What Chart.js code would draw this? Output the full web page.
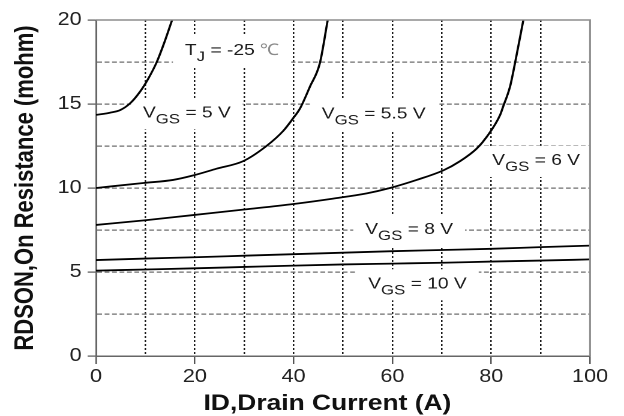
<!DOCTYPE html>
<html>
<head>
<meta charset="utf-8">
<script src="https://cdn.jsdelivr.net/npm/chart.js@4.4.1/dist/chart.umd.min.js"></script>
<style>
  html, body { margin: 0; padding: 0; background: #fff; }
  canvas { display: block; }
</style>
</head>
<body>
<canvas id="rdson" width="520" height="416" style="width:624px;height:416px"></canvas>
<script>
// Drain current (A) and on-resistance (mohm) for each gate voltage, Tj = -25 °C
const id5   = [0, 2.8, 4.9, 6.9, 8.9, 10.6, 12.3, 14.0, 15.4];
const rds5  = [14.35, 14.48, 14.64, 15.04, 15.73, 16.52, 17.5, 18.8, 20.0];

const id55  = [0, 9.6, 15.6, 19.7, 24.4, 29.8, 34.5, 37.9, 39.9, 41.3, 43.3, 45.3, 46.9];
const rds55 = [10.0, 10.3, 10.48, 10.75, 11.15, 11.6, 12.5, 13.4, 14.15, 14.74, 16.03, 17.42, 20.0];

const id6   = [0, 10, 19.7, 30, 40, 48, 54.8, 59.5, 64.9, 70.3, 73.7, 77.1, 79.1, 81.8, 82.4, 83.8, 84.8, 86.5];
const rds6  = [7.8, 8.08, 8.39, 8.72, 9.05, 9.37, 9.68, 10.0, 10.48, 11.05, 11.6, 12.36, 13.05, 14.35, 14.84, 16.03, 17.42, 20.0];

const id8   = [0, 10, 20, 30, 40, 50, 60, 70, 80, 90, 100];
const rds8  = [5.71, 5.8, 5.88, 5.97, 6.06, 6.15, 6.24, 6.31, 6.38, 6.48, 6.57];

const id10  = [0, 10, 20, 30, 40, 50, 60, 70, 80, 90, 100];
const rds10 = [5.08, 5.15, 5.22, 5.3, 5.38, 5.45, 5.5, 5.55, 5.62, 5.68, 5.75];

const xTicks = [0, 20, 40, 60, 80, 100];
const yTicks = [0, 5, 10, 15, 20];

const vgsLabels = ['5 V', '5.5 V', '6 V', '8 V', '10 V'];
const tjLabel = '-25 ';

const FONT = '"Liberation Sans", Arial, Helvetica, sans-serif';

function pts(xs, ys) { return xs.map((x, i) => ({ x: x, y: ys[i] })); }

function curve(xs, ys) {
  return {
    data: pts(xs, ys),
    borderColor: '#000',
    borderWidth: 1.8,
    pointRadius: 0,
    fill: false,
    cubicInterpolationMode: 'monotone'
  };
}

// Annotation texts: anchor is the left end of the text baseline, in axis units
const notes = [
  { x: 18.0, y: 17.92, parts: [['T', 16], ['J', 14, true], [' = ' + tjLabel, 16], ['\u2103', 16, false, '#8a8a8a']] },
  { x: 9.5,  y: 14.2,  parts: [['V', 16], ['GS', 14, true], [' = ' + vgsLabels[0], 16]] },
  { x: 45.7, y: 14.15, parts: [['V', 16], ['GS', 14, true], [' = ' + vgsLabels[1], 16]] },
  { x: 80.2, y: 11.37, parts: [['V', 16], ['GS', 14, true], [' = ' + vgsLabels[2], 16]] },
  { x: 54.5, y: 7.26,  parts: [['V', 16], ['GS', 14, true], [' = ' + vgsLabels[3], 16]] },
  { x: 55.1, y: 4.03,  parts: [['V', 16], ['GS', 14, true], [' = ' + vgsLabels[4], 16]] }
];

const notesPlugin = {
  id: 'notes',
  beforeDatasetsDraw(chart) {
    const { ctx } = chart;
    const xs = chart.scales.x, ys = chart.scales.y;
    ctx.save();
    ctx.textBaseline = 'alphabetic';
    ctx.textAlign = 'left';
    notes.forEach(n => {
      const px = xs.getPixelForValue(n.x);
      const py = ys.getPixelForValue(n.y);
      let w = 0;
      n.parts.forEach(p => {
        ctx.font = p[1] + 'px ' + FONT;
        w += ctx.measureText(p[0]).width;
      });
      ctx.fillStyle = '#fff';
      ctx.fillRect(px - 10, py - 19, w + 20, 31);
      let cx = px;
      n.parts.forEach(p => {
        ctx.font = p[1] + 'px ' + FONT;
        ctx.fillStyle = p[3] || '#1c1c1c';
        ctx.fillText(p[0], cx, py + (p[2] ? 6 : 0));
        cx += ctx.measureText(p[0]).width;
      });
    });
    ctx.restore();
  }
};

// Top and right edges of the plot frame
const framePlugin = {
  id: 'frame',
  afterDatasetsDraw(chart) {
    const { ctx, chartArea: a } = chart;
    ctx.save();
    ctx.strokeStyle = '#8c8c8c';
    ctx.lineWidth = 1.5;
    ctx.beginPath();
    ctx.moveTo(a.left, a.top);
    ctx.lineTo(a.right, a.top);
    ctx.lineTo(a.right, a.bottom);
    ctx.stroke();
    ctx.restore();
  }
};

// Horizontal axis title, set slightly left of the plot centre
const xTitlePlugin = {
  id: 'xTitle',
  afterDraw(chart) {
    const { ctx, chartArea: a } = chart;
    ctx.save();
    ctx.font = 'bold 22px ' + FONT;
    ctx.fillStyle = '#111';
    ctx.textAlign = 'center';
    ctx.textBaseline = 'middle';
    ctx.fillText('ID,Drain Current (A)', (a.left + a.right) / 2 - 13, a.bottom + 48);
    ctx.restore();
  }
};

new Chart(document.getElementById('rdson'), {
  type: 'line',
  data: {
    datasets: [
      curve(id5, rds5),
      curve(id55, rds55),
      curve(id6, rds6),
      curve(id8, rds8),
      curve(id10, rds10)
    ]
  },
  options: {
    responsive: false,
    devicePixelRatio: 2,
    animation: false,
    events: [],
    layout: { padding: { left: 0, right: 28.3, top: 20, bottom: 0 } },
    plugins: { legend: { display: false }, tooltip: { enabled: false } },
    scales: {
      x: {
        type: 'linear',
        min: 0,
        max: 100,
        afterFit(scale) { scale.height = 60; },
        ticks: {
          stepSize: 10,
          autoSkip: false,
          maxRotation: 0,
          padding: 2,
          color: '#222',
          font: { family: FONT, size: 18 },
          callback: v => (xTicks.includes(v) ? v : '')
        },
        grid: {
          color: c => (c.tick && (c.tick.value === 0 || c.tick.value === 100) ? 'rgba(0,0,0,0)' : '#1a1a1a'),
          tickColor: c => (c.tick && xTicks.includes(c.tick.value) ? '#555' : 'rgba(0,0,0,0)'),
          lineWidth: 1.25,
          tickLength: 8
        },
        border: { display: true, color: '#666', width: 1.5, dash: [2, 2] }
      },
      y: {
        min: 0,
        max: 20,
        afterFit(scale) { scale.width = 80; },
        ticks: {
          stepSize: 2.5,
          autoSkip: false,
          padding: 5,
          color: '#222',
          font: { family: FONT, size: 18 },
          callback: v => (yTicks.includes(v) ? v : '')
        },
        grid: {
          color: c => (c.tick && (c.tick.value === 0 || c.tick.value === 20) ? 'rgba(0,0,0,0)' : '#6e6e6e'),
          tickColor: c => (c.tick && yTicks.includes(c.tick.value) ? '#555' : 'rgba(0,0,0,0)'),
          lineWidth: 1.2,
          tickLength: 7
        },
        border: { display: true, color: '#666', width: 1.5, dash: [4, 2.2] },
        title: {
          display: true,
          text: 'RDSON,On Resistance (mohm)',
          color: '#111',
          font: { family: FONT, size: 22, weight: 'bold' },
          padding: { top: 8, bottom: 0 }
        }
      }
    }
  },
  plugins: [notesPlugin, framePlugin, xTitlePlugin]
});
</script>
</body>
</html>
